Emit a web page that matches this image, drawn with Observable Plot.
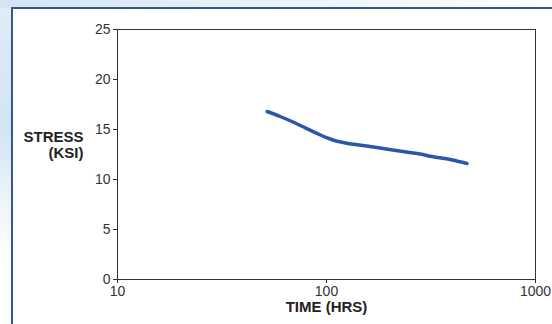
<!DOCTYPE html>
<html>
<head>
<meta charset="utf-8">
<script src="https://cdn.jsdelivr.net/npm/d3@7"></script>
<script src="https://cdn.jsdelivr.net/npm/@observablehq/plot@0.6"></script>
<style>
  html, body { margin: 0; padding: 0; }
  body {
    width: 552px; height: 324px; overflow: hidden; position: relative;
    background:
      linear-gradient(to bottom, rgba(225,237,248,1) 0%, rgba(210,228,245,1) 40%, rgba(240,246,252,1) 65%, rgba(255,255,255,1) 80%),
      #fff;
  }
  #topband {
    position: absolute; left: 0; top: 0; width: 552px; height: 8px;
    background: linear-gradient(to right, #d3e4f4 0%, #e6eff8 40%, #f3f7fb 70%, #ffffff 100%);
  }
  #panel {
    position: absolute; left: 11px; top: 7px; width: 541px; height: 317px;
    background: #fff; border-left: 2px solid #2f5b8b; border-top: 2px solid #2f5b8b;
    box-sizing: border-box;
  }
  #chart { position: absolute; left: 0; top: 0; }
</style>
</head>
<body>
<div id="topband"></div>
<div id="panel"></div>
<div id="chart"></div>
<script>
const timeHrs   = [52, 60, 70, 80, 90, 100, 110, 125, 150, 200, 250, 280, 320, 400, 470];
const stressKsi = [16.8, 16.3, 15.7, 15.12, 14.62, 14.18, 13.88, 13.63, 13.4, 13.0, 12.7, 12.55, 12.3, 11.95, 11.6];
const xTicks = [10, 100, 1000];
const yTicks = [0, 5, 10, 15, 20, 25];

const data = timeHrs.map((t, i) => ({t, s: stressKsi[i]}));

const chart = Plot.plot({
  width: 552,
  height: 324,
  marginLeft: 117,
  marginRight: 17,
  marginTop: 29,
  marginBottom: 45,
  style: {fontFamily: "'Liberation Sans', Arial, sans-serif", fontSize: "14px", color: "#333", background: "transparent"},
  x: {type: "log", domain: [10, 1000], ticks: xTicks, tickFormat: d => String(d), label: null, tickSize: 4, tickPadding: 3},
  y: {domain: [0, 25], ticks: yTicks, label: null, tickSize: 4, tickPadding: 3},
  marks: [
    Plot.frame({stroke: "#333", strokeWidth: 1}),
    Plot.axisX({ticks: xTicks, tickFormat: d => String(d), tickSize: 4, tickPadding: 3, fontSize: 14, stroke: "#333", fill: "#333"}),
    Plot.axisY({ticks: yTicks, tickSize: 4, tickPadding: 3, fontSize: 14, stroke: "#333", fill: "#333"}),
    Plot.line(data, {x: "t", y: "s", stroke: "#2b57a9", strokeWidth: 3.5, curve: "monotone-x"}),
    Plot.text(["STRESS\n(KSI)"], {frameAnchor: "left", dx: -34, dy: -10, textAnchor: "end", lineAnchor: "middle", fontWeight: "bold", fontSize: 15, fill: "#222", lineHeight: 1.07}),
    Plot.text(["TIME (HRS)"], {frameAnchor: "bottom", x: 100, dy: 28, textAnchor: "middle", lineAnchor: "middle", fontWeight: "bold", fontSize: 15, fill: "#222"})
  ]
});
document.getElementById("chart").appendChild(chart);
</script>
</body>
</html>
